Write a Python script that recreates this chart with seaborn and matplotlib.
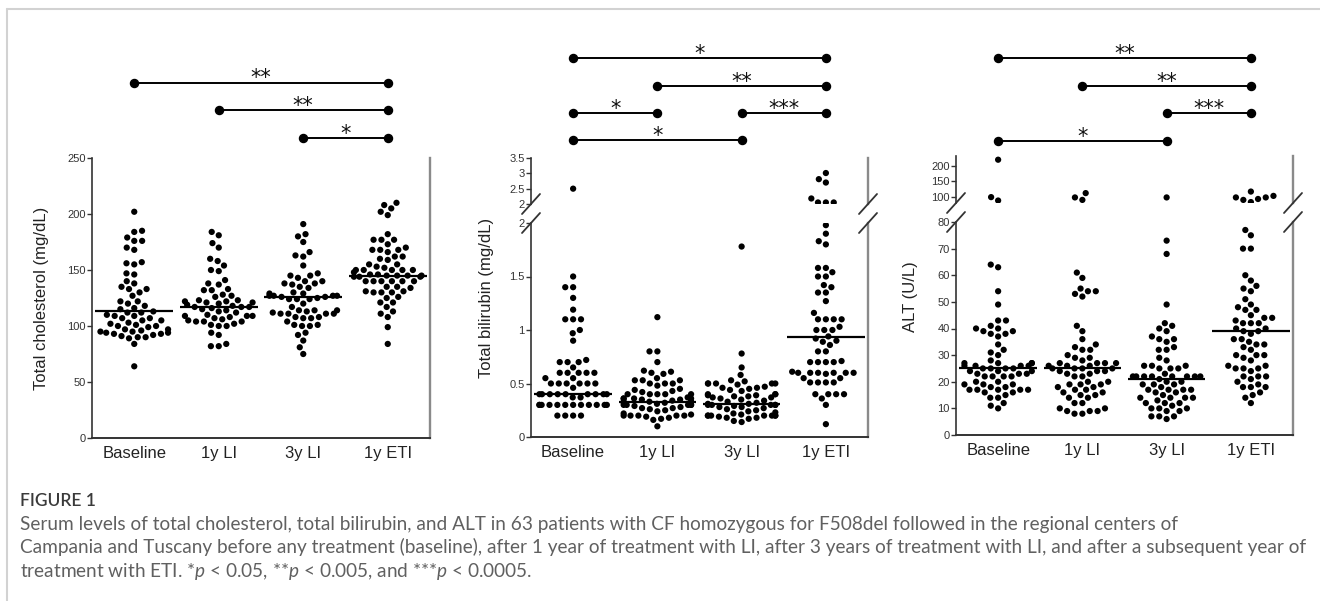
import numpy as np
import pandas as pd
import matplotlib
matplotlib.use("Agg")
import matplotlib.pyplot as plt
import seaborn as sns
from matplotlib.lines import Line2D
from matplotlib.transforms import blended_transform_factory

W, H = 1320, 601

groups = ["Baseline", "1y LI", "3y LI", "1y ETI"]

# total cholesterol (mg/dL)
chol_baseline = [202, 185, 184, 179, 176, 176, 170, 168, 157, 156, 155, 147, 146, 140, 138, 135,
                 133, 133, 130, 127, 122, 122, 120, 118, 116, 115, 113, 112, 112, 110, 109, 109,
                 107, 107, 105, 105, 103, 102, 101, 100, 100, 99, 97, 97, 96, 95, 95, 94, 94, 93,
                 93, 92, 91, 90, 90, 89, 84, 64]
chol_1yli = [184, 181, 174, 170, 160, 158, 154, 150, 149, 141, 138, 137, 133, 132, 132, 128, 127,
             126, 123, 123, 122, 122, 121, 121, 120, 119, 118, 117, 117, 117, 116, 115, 114, 113,
             112, 110, 109, 109, 109, 108, 107, 106, 105, 104, 104, 104, 102, 101, 100, 100, 94,
             92, 84, 82, 82]
chol_3yli = [191, 182, 180, 175, 166, 163, 162, 154, 147, 145, 145, 143, 140, 140, 138, 138, 137,
             135, 134, 130, 129, 129, 127, 127, 127, 127, 126, 126, 125, 124, 124, 124, 120, 117,
             114, 114, 114, 113, 112, 111, 111, 111, 111, 108, 108, 107, 107, 104, 101, 101, 100,
             100, 94, 92, 87, 81, 75]
chol_eti = [210, 208, 205, 202, 199, 182, 177, 177, 177, 173, 170, 168, 168, 168, 166, 162, 162,
            160, 159, 155, 155, 153, 152, 150, 150, 150, 150, 150, 148, 146, 146, 145, 145, 145,
            145, 144, 144, 144, 140, 140, 140, 140, 140, 140, 135, 135, 134, 131, 131, 130, 130,
            130, 126, 125, 121, 121, 117, 113, 111, 108, 99, 84]
chol_medians = [113, 117, 126, 145]

# total bilirubin (mg/dL)
bili_baseline = [2.5, 1.5, 1.4, 1.4, 1.3, 1.19, 1.1, 1.1, 1.1, 1.0, 0.97, 0.9, 0.72, 0.7, 0.7, 0.7,
                 0.65, 0.6, 0.6, 0.6, 0.6, 0.6, 0.55, 0.55, 0.5, 0.5, 0.5, 0.5, 0.5, 0.5, 0.46,
                 0.4, 0.4, 0.4, 0.4, 0.4, 0.4, 0.4, 0.4, 0.4, 0.37, 0.37,
                 0.3, 0.3, 0.3, 0.3, 0.3, 0.3, 0.3, 0.3, 0.3, 0.3, 0.3, 0.3,
                 0.2, 0.2, 0.2, 0.2]
bili_1yli = [1.12, 0.8, 0.8, 0.7, 0.62, 0.61, 0.6, 0.59, 0.55, 0.53, 0.53, 0.53, 0.5, 0.5, 0.5,
             0.48, 0.45, 0.44, 0.43, 0.42, 0.4, 0.4, 0.4, 0.4, 0.4, 0.37, 0.36, 0.36, 0.36, 0.36,
             0.35, 0.35, 0.34, 0.33, 0.33, 0.33, 0.33, 0.32, 0.32, 0.31, 0.3, 0.3, 0.3, 0.3, 0.3,
             0.29, 0.28, 0.27, 0.27, 0.26, 0.25, 0.24, 0.22, 0.21, 0.2, 0.2, 0.2, 0.2, 0.2, 0.19,
             0.18, 0.17, 0.16, 0.1]
bili_3yli = [1.78, 0.78, 0.65, 0.58, 0.53, 0.52, 0.5, 0.5, 0.5, 0.5, 0.5, 0.49, 0.47, 0.46, 0.46,
             0.45, 0.44, 0.43, 0.4, 0.4, 0.4, 0.39, 0.39, 0.38, 0.38, 0.37, 0.37, 0.36, 0.35, 0.34,
             0.33, 0.32, 0.31, 0.31, 0.3, 0.3, 0.3, 0.3, 0.3, 0.29, 0.28, 0.28, 0.27, 0.26, 0.25,
             0.24, 0.23, 0.22, 0.21, 0.2, 0.2, 0.2, 0.2, 0.2, 0.2, 0.2, 0.19, 0.18, 0.18, 0.17,
             0.15, 0.14]
bili_eti = [3.01, 2.81, 2.7, 2.18, 2.05, 2.05, 2.05, 1.98, 1.9, 1.83, 1.8, 1.58, 1.58, 1.54, 1.5,
            1.5, 1.42, 1.4, 1.35, 1.35, 1.27, 1.16, 1.1, 1.1, 1.1, 1.1, 1.03, 1.0, 1.0, 1.0, 0.94,
            0.92, 0.9, 0.89, 0.86, 0.8, 0.8, 0.71, 0.7, 0.7, 0.7, 0.7, 0.61, 0.6, 0.6, 0.6, 0.6,
            0.6, 0.6, 0.59, 0.55, 0.55, 0.51, 0.51, 0.51, 0.51, 0.4, 0.4, 0.4, 0.4, 0.36, 0.3, 0.12]
bili_medians = [0.40, 0.33, 0.31, 0.93]

# ALT (U/L)
alt_baseline = [220, 99, 88, 64, 63, 54, 49, 43, 43, 41, 40, 40, 39, 39, 38, 38, 37, 34, 32, 31,
                30, 28, 27, 27, 27, 27, 26, 26, 26, 26, 25, 25, 25, 25, 24, 24, 24, 23, 23, 23,
                22, 22, 22, 22, 20, 20, 19, 19, 19, 18, 18, 17, 17, 17, 17, 17, 16, 16, 15, 14,
                14, 12, 11, 10]
alt_1yli = [112, 98, 90, 61, 59, 55, 54, 54, 53, 52, 41, 39, 36, 34, 33, 32, 32, 30, 29, 29, 28,
            27, 27, 27, 27, 26, 26, 26, 25, 25, 25, 25, 24, 24, 24, 23, 23, 22, 22, 20, 20, 19,
            19, 19, 18, 18, 17, 17, 16, 16, 15, 15, 14, 14, 12, 12, 10, 10, 9, 9, 9, 8, 8]
alt_3yli = [98, 73, 68, 49, 42, 41, 40, 39, 37, 36, 36, 35, 33, 32, 32, 29, 28, 26, 26, 26, 25,
            25, 25, 23, 22, 22, 22, 22, 22, 22, 22, 22, 21, 20, 20, 19, 19, 19, 18, 17, 17, 17,
            17, 16, 16, 15, 14, 14, 14, 14, 13, 12, 12, 12, 11, 10, 10, 10, 9, 9, 7, 7, 7, 6]
alt_eti = [117, 103, 98, 98, 93, 90, 83, 77, 75, 70, 70, 60, 58, 56, 55, 54, 51, 49, 48, 47, 47,
           45, 44, 44, 43, 42, 42, 42, 40, 40, 39, 39, 38, 36, 36, 35, 34, 34, 33, 32, 30, 30,
           30, 29, 28, 26, 26, 25, 25, 25, 24, 22, 22, 22, 21, 20, 19, 18, 18, 18, 16, 15, 14, 12]
alt_medians = [25, 25, 21, 39]

# significance brackets: (from group, to group, label)
chol_brackets = [(0, 3, "**"), (1, 3, "**"), (2, 3, "*")]
bili_brackets = [(0, 3, "*"), (1, 3, "**"), (0, 1, "*"), (2, 3, "***"), (0, 2, "*")]
alt_brackets = [(0, 3, "**"), (1, 3, "**"), (2, 3, "***"), (0, 2, "*")]

caption_title = "FIGURE 1"
caption_lines = [
    "Serum levels of total cholesterol, total bilirubin, and ALT in 63 patients with CF "
    "homozygous for F508del followed in the regional centers of",
    "Campania and Tuscany before any treatment (baseline), after 1 year of treatment with LI, "
    "after 3 years of treatment with LI, and after a subsequent year of",
    "treatment with ETI. *$p$ < 0.05, **$p$ < 0.005, and ***$p$ < 0.0005.",
]

sns.set_style("ticks")
plt.rcParams["font.family"] = ["Liberation Sans", "DejaVu Sans"]
plt.rcParams["mathtext.fontset"] = "custom"
plt.rcParams["mathtext.it"] = "Lato:italic"
plt.rcParams["mathtext.rm"] = "Lato"

fig = plt.figure(figsize=(W / 100, H / 100), dpi=100)


def fy(ypx):
    return 1 - ypx / H


def px_axes(left, top, right, bottom):
    return fig.add_axes([left / W, fy(bottom), (right - left) / W, (bottom - top) / H])


def long_form(lists):
    return pd.DataFrame({
        "group": np.repeat(groups, [len(v) for v in lists]),
        "value": np.concatenate([np.asarray(v, dtype=float) for v in lists]),
    })


swarm_kw = dict(x="group", y="value", order=groups, color="black",
                size=4.5, linewidth=0.9, edgecolor="none", warn_thresh=1)


def style_axes(ax, bottom=True):
    ax.set_xlim(-0.5, 3.5)
    ax.set_xlabel("")
    ax.set_ylabel("")
    ax.spines["top"].set_visible(False)
    ax.spines["left"].set_color("#333333")
    ax.spines["left"].set_linewidth(1.2)
    ax.spines["right"].set_visible(True)
    ax.spines["right"].set_color("#8a8a8a")
    ax.spines["right"].set_linewidth(1.7)
    ax.tick_params(axis="y", length=3.5, width=1, labelsize=8, colors="#333333", pad=1)
    if bottom:
        ax.spines["bottom"].set_color("#333333")
        ax.spines["bottom"].set_linewidth(1.4)
        ax.tick_params(axis="x", length=0, labelsize=12, pad=6, colors="#222222")
    else:
        ax.spines["bottom"].set_visible(False)
        ax.tick_params(axis="x", bottom=False, labelbottom=False)


def draw_medians(ax, medians):
    pos = np.arange(len(medians))
    ax.hlines(medians, pos - 0.46, pos + 0.46, color="black", lw=1.6, zorder=4)


def draw_brackets(ax, brackets, rows_px):
    trans = blended_transform_factory(ax.transData, fig.transFigure)
    for (i0, i1, stars), ypx in zip(brackets, rows_px):
        ax.plot([i0, i1], [fy(ypx), fy(ypx)], transform=trans, color="black", lw=1.4,
                marker="o", ms=5.8, clip_on=False)
        ax.text((i0 + i1) / 2, fy(ypx + 2), stars, transform=trans, ha="center",
                va="baseline", fontsize=15, family="DejaVu Sans", color="#111111")


def break_marks(left, right, y_upper, y_lower):
    for x in (left, right):
        for y in (y_upper, y_lower):
            fig.add_artist(Line2D([(x - 9) / W, (x + 9) / W], [fy(y + 10), fy(y - 10)],
                                  color="#333333", lw=1.3))


# panel 1: cholesterol
ax1 = px_axes(92, 158, 430, 438)
sns.swarmplot(data=long_form([chol_baseline, chol_1yli, chol_3yli, chol_eti]), ax=ax1, **swarm_kw)
style_axes(ax1)
ax1.set_ylim(0, 250)
ax1.set_yticks([0, 50, 100, 150, 200, 250])
draw_medians(ax1, chol_medians)
draw_brackets(ax1, chol_brackets, [82.5, 110, 138])
fig.text(42 / W, fy(298), "Total cholesterol (mg/dL)", rotation=90, ha="center", va="center",
         fontsize=12, color="#222222")

# panel 2: bilirubin, broken axis at 2
bili = long_form([bili_baseline, bili_1yli, bili_3yli, bili_eti])
ax2u = px_axes(531, 158, 868, 204)
ax2l = px_axes(531, 223, 868, 437)
sns.swarmplot(data=bili[bili["value"] > 2], ax=ax2u, **swarm_kw)
sns.swarmplot(data=bili[bili["value"] <= 2], ax=ax2l, **swarm_kw)
style_axes(ax2u, bottom=False)
style_axes(ax2l)
ax2u.set_ylim(2, 3.5)
ax2u.set_yticks([2, 2.5, 3, 3.5], ["2", "2.5", "3", "3.5"])
ax2l.set_ylim(0, 2)
ax2l.set_yticks([0, 0.5, 1, 1.5, 2], ["0", "0.5", "1", "1.5", "2"])
draw_medians(ax2l, bili_medians)
draw_brackets(ax2l, bili_brackets, [58, 86, 113, 113, 140])
break_marks(531, 868, 204, 223)
fig.text(486 / W, fy(298), "Total bilirubin (mg/dL)", rotation=90, ha="center", va="center",
         fontsize=12, color="#222222")

# panel 3: ALT, broken axis at 80
alt = long_form([alt_baseline, alt_1yli, alt_3yli, alt_eti])
ax3u = px_axes(956, 156, 1293, 203)
ax3l = px_axes(956, 222, 1293, 435)
sns.swarmplot(data=alt[alt["value"] > 80], ax=ax3u, **swarm_kw)
sns.swarmplot(data=alt[alt["value"] <= 80], ax=ax3l, **swarm_kw)
style_axes(ax3u, bottom=False)
style_axes(ax3l)
ax3u.set_ylim(80, 232)
ax3u.set_yticks([100, 150, 200])
ax3l.set_ylim(0, 80)
ax3l.set_yticks(range(0, 81, 10))
draw_medians(ax3l, alt_medians)
draw_brackets(ax3l, alt_brackets, [58, 86, 113, 141])
break_marks(956, 1293, 203, 222)
fig.text(911 / W, fy(297), "ALT (U/L)", rotation=90, ha="center", va="center",
         fontsize=12, color="#222222")

# frame and caption
fig.add_artist(Line2D([7 / W, 1], [fy(9), fy(9)], color="#d2d2d2", lw=1.5))
fig.add_artist(Line2D([7 / W, 7 / W], [fy(9), 0], color="#d2d2d2", lw=1.5))
fig.text(20 / W, fy(506), caption_title, fontsize=12.5, family="Lato", weight="semibold",
         color="#3a3a3a", va="baseline")
for i, line in enumerate(caption_lines):
    fig.text(20 / W, fy(530 + 23.5 * i), line, fontsize=13.7, family="Lato", color="#606060",
             va="baseline")

fig.savefig("out.png", dpi=100)
